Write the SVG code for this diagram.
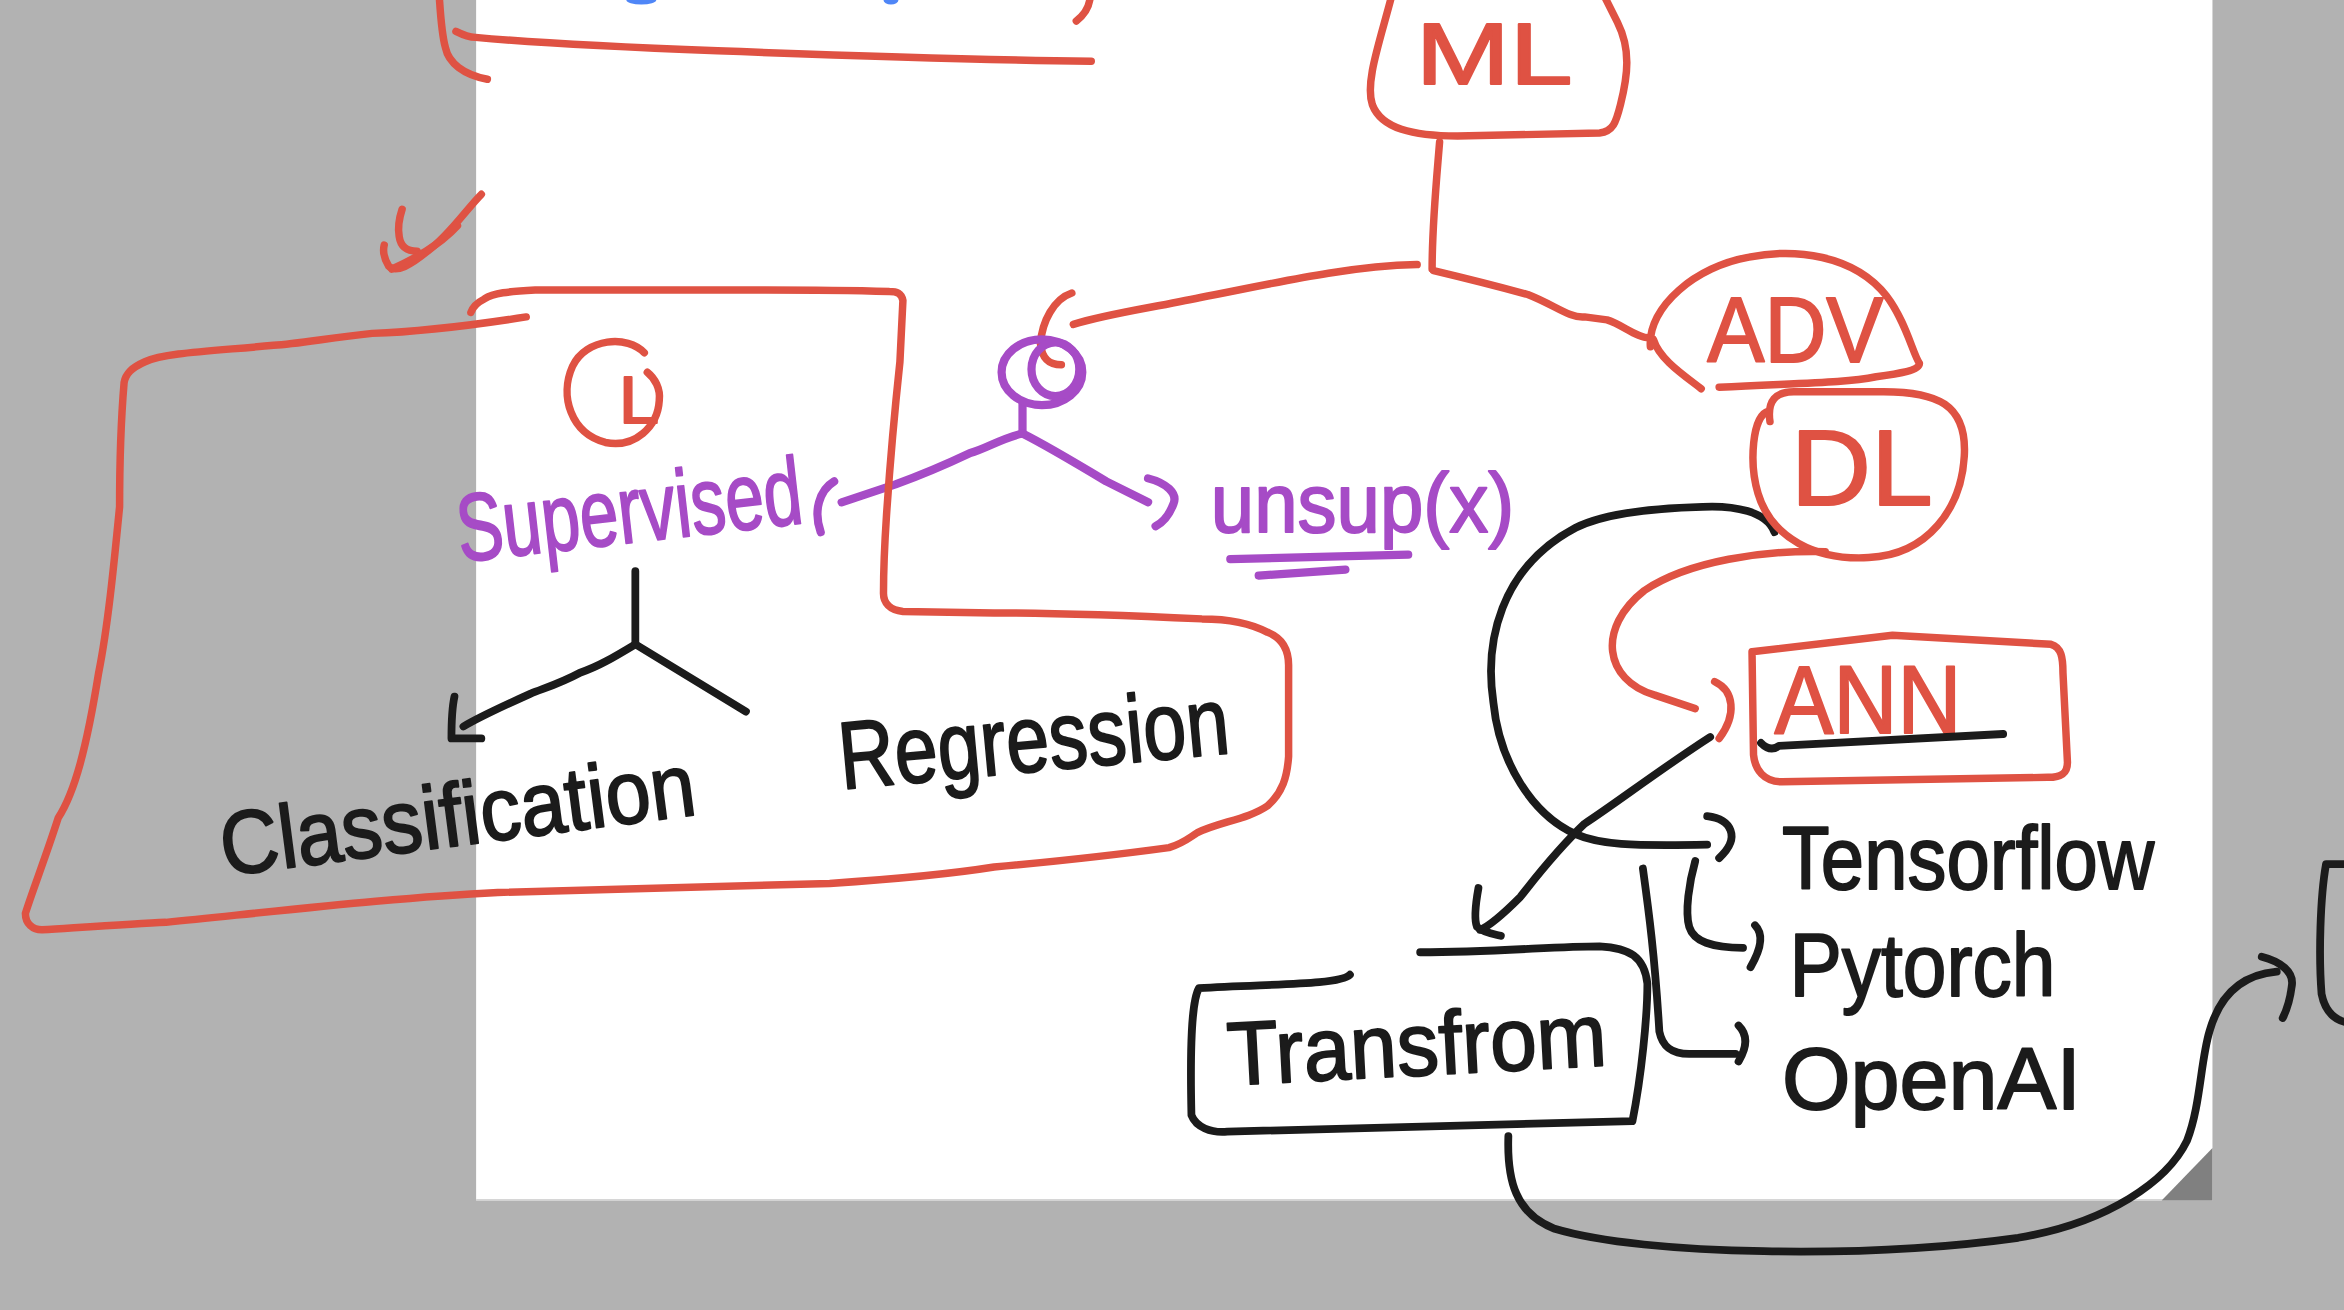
<svg xmlns="http://www.w3.org/2000/svg" width="2344" height="1310" viewBox="0 0 2344 1310">
<style>
.r{fill:none;stroke:#df5243;stroke-width:5;stroke-linecap:round;stroke-linejoin:round}
.p{fill:none;stroke:#a64bc6;stroke-width:5.5;stroke-linecap:round;stroke-linejoin:round}
.k{fill:none;stroke:#1b1b1b;stroke-width:5.2;stroke-linecap:round;stroke-linejoin:round}
.t{font-family:"Liberation Sans","DejaVu Sans",sans-serif;stroke-width:1.3;stroke-linejoin:round}
.tr{fill:#df5243;stroke:#df5243}
.tp{fill:#a64bc6;stroke:#a64bc6}
.tk{fill:#1b1b1b;stroke:#1b1b1b}
</style>
<rect x="0" y="0" width="2344" height="1310" fill="#b2b2b2"/>
<g transform="scale(1.4949)">
  <g id="page">
    <rect x="318.5" y="0" width="1161.5" height="803" fill="#ffffff"/>
    <line x1="318.5" y1="802.5" x2="1480" y2="802.5" stroke="#d6d6d6" stroke-width="1"/>
    <polygon points="1480,768 1480,803 1446,803" fill="#808080"/>
  </g>

  <g id="top-fragment">
    <path class="r" d="M294,0 C295,15 296,25 298,32 C300,42 310,50 326,53"/>
    <path class="r" d="M305,21 C309,23 313,25 318,25 C350,28 400,31 480,34 C560,37 650,40 730,41"/>
    <path class="r" d="M729,0 C728,6 724,11 720,14"/>
    <ellipse cx="429" cy="0" rx="10" ry="3" fill="#4f86f7"/>
    <ellipse cx="596" cy="0" rx="5" ry="3" fill="#4f86f7"/>
  </g>

  <g id="checkmark">
    <path class="r" d="M269,140 C267,146 266,152 267,158 C268,165 272,168 279,168"/>
    <path class="r" d="M322,130 C312,140 300,158 286,168 C275,177 265,183 260,178 C257,173 256,168 257,164"/>
    <path class="r" d="M262,180 C280,172 296,162 306,151"/>
  </g>

  <g id="connectors">
    <path class="r" d="M963,95 C961,120 958,150 958,180"/>
    <path class="r" d="M948,177 C900,178 850,190 803,199 C770,206 740,210 718,217"/>
    <path class="r" d="M717,196 C705,200 697,215 696,230 C697,240 702,244 710,244"/>
    <path class="r" d="M959,181 C980,186 1000,191 1022,197 C1040,204 1050,213 1060,212 L1075,214 C1085,217 1095,226 1103,226"/>
    <path class="r" d="M1221,369 C1180,368 1130,375 1100,395 C1068,420 1073,455 1107,465 L1134,474"/>
    <path class="r" d="M1147,456 C1160,462 1162,478 1150,494"/>
    <path class="k" d="M1187,356 C1182,342 1160,338 1139,339 C1100,340 1070,345 1054,353 C1003,380 993,430 999,470 C1003,510 1025,545 1054,558 C1070,565 1090,566 1142,565"/>
    <path class="k" d="M1142,546 C1158,548 1165,560 1150,574"/>
    <path class="k" d="M1144,493 C1110,515 1080,538 1060,551 C1040,570 1025,590 1017,600 C1005,612 995,620 990,622"/>
    <path class="k" d="M989,594 C987,605 986,615 988,620 C992,624 1000,625 1004,626"/>
    <path class="k" d="M1099,581 C1103,610 1107,640 1110,690 C1112,700 1118,705 1130,705 L1161,705"/>
    <path class="k" d="M1163,686 C1169,692 1169,700 1163,710"/>
    <path class="k" d="M1134,576 C1130,590 1127,610 1130,620 C1133,630 1145,634 1166,634"/>
    <path class="k" d="M1174,619 C1180,625 1178,635 1171,647"/>
    <path class="k" d="M1009,760 C1008,790 1014,812 1040,822 C1100,840 1250,842 1350,828 C1410,818 1450,790 1463,763 C1472,740 1472,710 1478,690 C1485,665 1500,652 1523,650"/>
    <path class="k" d="M1513,640 C1525,643 1535,650 1533,660 C1532,668 1530,675 1527,681"/>
    <path class="p" d="M684,270 L684,290"/>
    <path class="p" d="M684,290 C670,293 660,300 649,303 C630,312 610,320 599,324 L563,336"/>
    <path class="p" d="M558,322 C548,328 544,342 549,356"/>
    <path class="p" d="M684,290 C700,298 720,310 740,322 L768,336"/>
    <path class="p" d="M768,320 C780,323 788,330 785,337 C782,345 777,350 773,352"/>
    <path class="k" d="M425,382 L425,431"/>
    <path class="k" d="M425,431 C410,440 400,446 388,450 C375,457 365,460 355,464 C335,473 320,480 310,486"/>
    <path class="k" d="M304,466 C302,475 302,488 302,494 L322,494"/>
    <path class="k" d="M425,431 L499,476"/>
  </g>

  <g id="supervised-box">
    <path class="r" d="M352,212 C320,217 280,222 249,223 C220,226 200,230 183,231 C140,235 110,236 97,242 C88,246 84,250 83,256 C81,280 80,310 80,339 C76,380 72,420 66,450 C58,500 50,530 39,547 C30,575 22,595 17,611 C17,618 22,622 28,622 C60,620 90,618 111,617 C200,608 270,600 333,597 C420,594 500,592 555,591 C600,588 640,584 665,580 C720,575 760,570 782,567 C792,564 796,560 801,557 C815,550 835,548 848,539 C858,530 861,520 862,506 L862,445 C862,435 858,427 848,423 C835,416 820,414 804,414 C760,412 700,410 665,410 L604,409 C595,408 591,403 591,397 C591,380 592,360 593,345 C596,300 599,270 602,242 L604,201 C603,196 600,195 595,195 C560,194 540,194 512,194 C460,194 400,194 358,194 C340,195 330,196 324,200 C318,203 316,206 315,209"/>
  </g>

  <g id="node-circled-l">
    <path class="r" d="M431,236 C420,224 392,226 383,245 C374,265 382,290 405,296 C425,300 440,285 441,268 C442,260 438,253 433,249"/>
    <text class="t tr" x="414" y="283" font-size="44" textLength="27" lengthAdjust="spacingAndGlyphs">L</text>
  </g>

  <g id="node-ml">
    <path class="r" d="M931,-3 C923,28 913,55 918,70 C924,86 945,91 975,91 L1070,89 C1079,88 1081,82 1084,70 C1089,50 1091,33 1082,15 L1073,-3"/>
    <text class="t tr" x="947" y="56" font-size="58" textLength="105" lengthAdjust="spacingAndGlyphs">ML</text>
  </g>

  <g id="node-adv">
    <path class="r" d="M1104,232 C1102,205 1135,178 1170,172 C1200,166 1240,170 1262,198 C1275,215 1280,238 1284,243 C1284,248 1270,250 1255,252 C1235,256 1210,256 1150,259"/>
    <path class="r" d="M1106,227 C1110,240 1125,250 1138,260"/>
    <text class="t tr" x="1142" y="242" font-size="62" textLength="118" lengthAdjust="spacingAndGlyphs">ADV</text>
  </g>

  <g id="node-dl">
    <path class="r" d="M1183,275 C1172,278 1170,310 1176,330 C1185,360 1215,375 1250,373 C1290,371 1312,340 1314,305 C1316,270 1295,262 1260,262 L1200,262 C1188,262 1182,268 1184,282"/>
    <text class="t tr" x="1198" y="338" font-size="72" textLength="95" lengthAdjust="spacingAndGlyphs">DL</text>
  </g>

  <g id="node-ann">
    <path class="r" d="M1172,436 L1266,425 L1372,431 C1379,433 1380,440 1380,450 L1383,510 C1383,518 1378,520 1370,520 L1192,523 C1180,523 1174,515 1173,505 Z"/>
    <text class="t tr" x="1187" y="490" font-size="64" textLength="125" lengthAdjust="spacingAndGlyphs">ANN</text>
    <path class="k" d="M1178,497 C1182,501 1186,502 1190,499 L1340,491"/>
  </g>

  <g id="node-root">
    <ellipse class="p" cx="697" cy="249" rx="27" ry="22"/>
    <ellipse class="p" cx="706" cy="247" rx="16" ry="18"/>
  </g>

  <g id="node-supervised">
    <text class="t tp" transform="translate(308,376) rotate(-6.5)" font-size="64" textLength="232" lengthAdjust="spacingAndGlyphs">Supervised</text>
  </g>

  <g id="node-unsup">
    <text class="t tp" x="810" y="356" font-size="56" textLength="203" lengthAdjust="spacingAndGlyphs">unsup(x)</text>
    <path class="p" d="M823,374 L942,371"/>
    <path class="p" d="M842,385 L900,381"/>
  </g>

  <g id="node-classification">
    <text class="t tk" transform="translate(150,586) rotate(-7.4)" font-size="60" textLength="320" lengthAdjust="spacingAndGlyphs">Classification</text>
  </g>

  <g id="node-regression">
    <text class="t tk" transform="translate(563,528) rotate(-5.3)" font-size="64" textLength="262" lengthAdjust="spacingAndGlyphs">Regression</text>
  </g>

  <g id="node-transfrom">
    <path class="k" d="M903,652 C896,659 850,658 802,661 C797,670 796,700 797,746 C800,754 810,758 821,757 L1092,750 C1098,720 1102,680 1102,658 C1100,640 1090,634 1070,633 C1040,633 1000,637 950,637"/>
    <text class="t tk" transform="translate(822,726) rotate(-3)" font-size="60" textLength="254" lengthAdjust="spacingAndGlyphs">Transfrom</text>
  </g>

  <g id="node-tensorflow">
    <text class="t tk" x="1192" y="595" font-size="60" textLength="249" lengthAdjust="spacingAndGlyphs">Tensorflow</text>
  </g>
  <g id="node-pytorch">
    <text class="t tk" x="1197" y="666" font-size="60" textLength="178" lengthAdjust="spacingAndGlyphs">Pytorch</text>
  </g>
  <g id="node-openai">
    <text class="t tk" x="1192" y="742" font-size="58" textLength="200" lengthAdjust="spacingAndGlyphs">OpenAI</text>
  </g>

  <g id="right-fragment">
    <path class="k" d="M1570,578 L1556,578 C1552,600 1551,640 1553,665 C1555,675 1560,682 1570,684"/>
  </g>
</g>
</svg>
